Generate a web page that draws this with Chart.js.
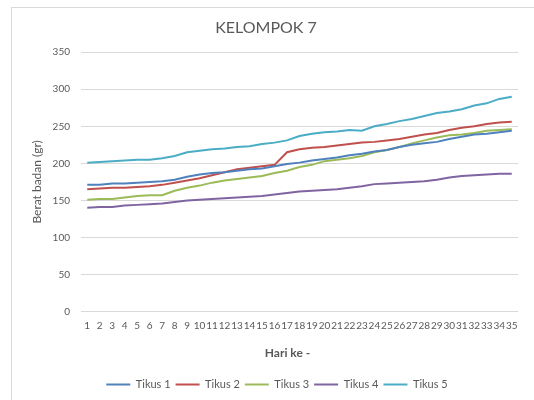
<!DOCTYPE html>
<html>
<head>
<meta charset="utf-8">
<script src="https://cdn.jsdelivr.net/npm/chart.js@4/dist/chart.umd.min.js"></script>
<style>
  html, body { margin: 0; padding: 0; background: #ffffff; }
  #wrap { position: relative; width: 534px; height: 400px; overflow: hidden; }
  #frame { position: absolute; left: 11px; top: 7px; width: 600px; height: 500px;
           border: 1px solid #d9d9d9; box-sizing: border-box; }
  canvas { position: absolute; left: 0; top: 0; }
</style>
</head>
<body>
<div id="wrap">
  <div id="frame"></div>
  <canvas id="c" width="534" height="400"></canvas>
</div>
<script>
// Hari pengamatan
const days = ['1','2','3','4','5','6','7','8','9','10','11','12','13','14','15','16','17','18',
              '19','20','21','22','23','24','25','26','27','28','29','30','31','32','33','34','35'];

// Berat badan tiap tikus (gr)
const tikus1 = [171,171,173,173,174,175,176,178,182,185,187,188,190,192,193,196,199,201,
                204,206,208,211,213,216,218,222,225,227,229,233,236,239,240,242,244];
const tikus2 = [165,166,167,167,168,169,171,174,177,180,184,188,192,194,196,198,215,219,
                221,222,224,226,228,229,231,233,236,239,241,245,248,250,253,255,256];
const tikus3 = [151,152,152,154,156,157,157,163,167,170,174,177,179,181,183,187,190,195,
                198,203,205,207,210,215,218,222,227,231,235,238,239,241,244,245,246];
const tikus4 = [140,141,141,143,144,145,146,148,150,151,152,153,154,155,156,158,160,162,
                163,164,165,167,169,172,173,174,175,176,178,181,183,184,185,186,186];
const tikus5 = [201,202,203,204,205,205,207,210,215,217,219,220,222,223,226,228,231,237,
                240,242,243,245,244,250,253,257,260,264,268,270,273,278,281,287,290];

const seriesNames = ['Tikus 1','Tikus 2','Tikus 3','Tikus 4','Tikus 5'];
const seriesData = [tikus1, tikus2, tikus3, tikus4, tikus5];
const seriesColors = ['#4F81BD','#C0504D','#9BBB59','#8064A2','#4BACC6'];

const yTicks = [0, 50, 100, 150, 200, 250, 300, 350];

const FONT = 'Lato, "Liberation Sans", sans-serif';
const TEXT = '#595959';
const X_TITLE = 'Hari ke -';

// Legend sits a little right of centre; x-axis title a little left of the plot centre.
const placement = {
  id: 'placement',
  afterLayout(chart) {
    const lg = chart.legend;
    if (lg) {
      const shift = 277 - (lg.left + lg.right) / 2;
      lg.left += shift;
      lg.right += shift;
    }
  },
  afterDraw(chart) {
    const xs = chart.scales.x;
    const { ctx, chartArea } = chart;
    const t = xs.options.title;
    const lh = t.font.size * 1.2;
    ctx.save();
    ctx.fillStyle = TEXT;
    ctx.font = 'bold ' + t.font.size + 'px ' + FONT;
    ctx.textAlign = 'center';
    ctx.textBaseline = 'middle';
    const cx = (chartArea.left + chartArea.right) / 2 - 12;
    const cy = xs.bottom - t.padding.bottom - lh / 2;
    ctx.fillText(X_TITLE, cx, cy);
    ctx.restore();
  }
};

new Chart(document.getElementById('c'), {
  type: 'line',
  data: {
    labels: days,
    datasets: seriesNames.map((name, i) => ({
      label: name,
      data: seriesData[i],
      borderColor: seriesColors[i],
      backgroundColor: seriesColors[i],
      borderWidth: 2,
      pointRadius: 0,
      tension: 0
    }))
  },
  plugins: [placement],
  options: {
    responsive: false,
    animation: false,
    layout: { padding: { left: 14, right: 16, top: 0, bottom: 0 } },
    plugins: {
      title: {
        display: true,
        text: 'KELOMPOK 7',
        color: TEXT,
        font: { family: FONT, size: 16, weight: 'normal' },
        padding: { top: 18, bottom: 15 }
      },
      legend: {
        position: 'bottom',
        labels: {
          color: TEXT,
          font: { family: FONT, size: 11 },
          boxWidth: 24,
          boxHeight: 2,
          padding: 5,
          generateLabels(chart) {
            return Chart.defaults.plugins.legend.labels.generateLabels(chart)
              .map(l => Object.assign(l, { lineWidth: 0 }));
          }
        }
      },
      tooltip: { enabled: false }
    },
    scales: {
      x: {
        offset: true,
        grid: { display: false, drawTicks: false },
        border: { display: false },
        ticks: {
          color: TEXT,
          font: { family: FONT, size: 10 },
          autoSkip: false,
          maxRotation: 0,
          padding: 8
        },
        title: {
          display: true,
          text: X_TITLE,
          color: 'rgba(0,0,0,0)',
          font: { family: FONT, size: 12, weight: 'bold' },
          padding: { top: 6, bottom: 14 }
        }
      },
      y: {
        min: 0,
        max: 350,
        afterBuildTicks(scale) { scale.ticks = yTicks.map(v => ({ value: v })); },
        afterFit(scale) { scale.width = 67; },
        grid: { color: '#d9d9d9', lineWidth: 1, drawTicks: false },
        border: { display: false },
        ticks: {
          color: TEXT,
          font: { family: FONT, size: 10 },
          padding: 11
        },
        title: {
          display: true,
          text: 'Berat badan (gr)',
          color: TEXT,
          font: { family: FONT, size: 12, weight: 'normal' },
          padding: { top: 16, bottom: 0 }
        }
      }
    }
  }
});
</script>
</body>
</html>
